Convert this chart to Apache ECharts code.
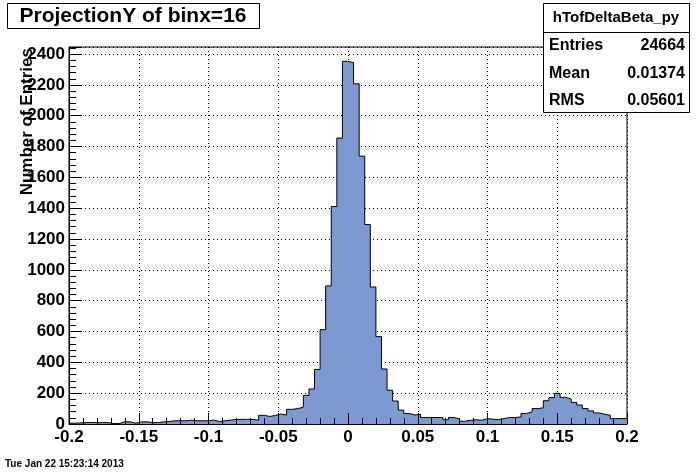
<!DOCTYPE html>
<html>
<head>
<meta charset="utf-8">
<script src="https://cdn.jsdelivr.net/npm/echarts@6/dist/echarts.min.js"></script>
<style>html,body{margin:0;padding:0;background:#fff;}#c{width:696px;height:472px;}</style>
</head>
<body>
<div id="c"></div>
<script>
// Histogram binning
const xMin = -0.2;
const xMax = 0.2;
const binWidth = 0.004;
// Bin contents (100 bins from -0.2 to 0.2)
const counts = [
  5, 7, 9, 10, 9, 9, 9, 3, 3, 14,
  14, 5, 14, 14, 9, 9, 14, 16, 21, 21,
  21, 25, 21, 21, 21, 25, 16, 21, 25, 30,
  30, 30, 30, 25, 56, 49, 56, 65, 58, 95,
  100, 109, 186, 227, 354, 612, 896, 1411, 1855, 2353,
  2345, 2207, 1738, 1294, 889, 567, 357, 219, 149, 90,
  68, 59, 63, 42, 42, 42, 42, 28, 42, 33,
  18, 24, 28, 24, 35, 31, 28, 35, 42, 42,
  46, 68, 79, 100, 105, 151, 171, 199, 173, 162,
  140, 123, 100, 85, 72, 63, 57, 35, 35, 35
];
const yMax = 2446;
const xTickStep = 0.05;
const xMinorStep = 0.01;
const yTickStep = 200;
const yMinorStep = 40;
const titleText = 'ProjectionY of binx=16';
const yTitle = 'Number of Entries';
const statsName = 'hTofDeltaBeta_py';
const statsLabels = ['Entries', 'Mean', 'RMS'];
const statsValues = ['24664', '0.01374', '0.05601'];
const dateText = 'Tue Jan 22 15:23:14 2013';

const FONT = "'Liberation Sans', Arial, Helvetica, sans-serif";
const fill = '#7d99d1';

const stepData = counts.map((v, k) => [Math.round((xMin + k * binWidth) * 1e6) / 1e6, v]);
stepData.push([xMax, counts[counts.length - 1]]);

const chart = echarts.init(document.getElementById('c'), null, {renderer: 'canvas'});

function xAx(opts) {
  return Object.assign({
    type: 'value', min: xMin, max: xMax, position: 'bottom',
    axisLine: {show: false, onZero: false}, axisTick: {show: false}, axisLabel: {show: false},
    splitLine: {show: false}
  }, opts);
}
function yAx(opts) {
  return Object.assign({
    type: 'value', min: 0, max: yMax, position: 'left',
    axisLine: {show: false, onZero: false}, axisTick: {show: false}, axisLabel: {show: false},
    splitLine: {show: false}
  }, opts);
}

const option = {
  animation: false,
  backgroundColor: '#fff',
  grid: {left: 69, right: 69, top: 47, bottom: 48, show: true, borderColor: '#000', borderWidth: 1, backgroundColor: 'transparent'},
  xAxis: [
    xAx({interval: xTickStep, z: 0,
      splitLine: {show: true, lineStyle: {color: '#000', width: 1, type: [1, 3]}}}),
    xAx({interval: xTickStep, z: 5,
      axisLine: {show: true, onZero: false, lineStyle: {color: '#000', width: 1}},
      axisTick: {show: true, inside: true, length: 11, lineStyle: {color: '#000', width: 1}},
      axisLabel: {show: true, margin: 5, color: '#000', fontFamily: FONT, fontWeight: 'bold', fontSize: 17,
        showMinLabel: true, showMaxLabel: true,
        formatter: v => String(Math.round(v * 1000) / 1000)}}),
    xAx({interval: xMinorStep, z: 5,
      axisTick: {show: true, inside: true, length: 6, lineStyle: {color: '#000', width: 1}}})
  ],
  yAxis: [
    yAx({interval: yTickStep, z: 0,
      splitLine: {show: true, lineStyle: {color: '#000', width: 1, type: [1, 3]}}}),
    yAx({interval: yTickStep, z: 5,
      axisLine: {show: true, onZero: false, lineStyle: {color: '#000', width: 1}},
      axisTick: {show: true, inside: true, length: 13, lineStyle: {color: '#000', width: 1}},
      axisLabel: {show: true, margin: 4, color: '#000', fontFamily: FONT, fontWeight: 'bold', fontSize: 17,
        formatter: v => (Math.abs(v % yTickStep) < 1e-6 ? String(v) : '')}}),
    yAx({interval: yMinorStep, z: 5,
      axisTick: {show: true, inside: true, length: 7, lineStyle: {color: '#000', width: 1}}})
  ],
  series: [{
    type: 'line',
    name: statsName,
    xAxisIndex: 0, yAxisIndex: 0,
    step: 'end',
    symbol: 'none',
    data: stepData,
    lineStyle: {color: '#000', width: 1},
    areaStyle: {color: fill, opacity: 1},
    z: 2
  }],
  graphic: [
    // title box
    {type: 'rect', shape: {x: 7.5, y: 3.5, width: 252, height: 25}, style: {fill: '#fff', stroke: '#000', lineWidth: 1}, z: 10},
    {type: 'text', x: 133, y: 16, style: {text: titleText, fill: '#000', font: "bold 21px " + FONT, textAlign: 'center', textVerticalAlign: 'middle'}, z: 11},
    // y axis title
    {type: 'text', x: 27, y: 48, rotation: Math.PI / 2, style: {text: yTitle, fill: '#000', font: "bold 17px " + FONT, textAlign: 'right', textVerticalAlign: 'middle'}, z: 11},
    // stats box
    {type: 'rect', shape: {x: 543.5, y: 3.5, width: 146, height: 109}, style: {fill: '#fff', stroke: '#000', lineWidth: 1}, z: 10},
    {type: 'line', shape: {x1: 543.5, y1: 32.5, x2: 689.5, y2: 32.5}, style: {stroke: '#000', lineWidth: 1}, z: 11},
    {type: 'text', x: 616, y: 18, style: {text: statsName, fill: '#000', font: "bold 15px " + FONT, textAlign: 'center', textVerticalAlign: 'middle'}, z: 11},
    {type: 'text', x: 549, y: 46, style: {text: statsLabels[0], fill: '#000', font: "bold 16px " + FONT, textAlign: 'left', textVerticalAlign: 'middle'}, z: 11},
    {type: 'text', x: 685, y: 46, style: {text: statsValues[0], fill: '#000', font: "bold 16px " + FONT, textAlign: 'right', textVerticalAlign: 'middle'}, z: 11},
    {type: 'text', x: 549, y: 74, style: {text: statsLabels[1], fill: '#000', font: "bold 16px " + FONT, textAlign: 'left', textVerticalAlign: 'middle'}, z: 11},
    {type: 'text', x: 685, y: 74, style: {text: statsValues[1], fill: '#000', font: "bold 16px " + FONT, textAlign: 'right', textVerticalAlign: 'middle'}, z: 11},
    {type: 'text', x: 549, y: 101, style: {text: statsLabels[2], fill: '#000', font: "bold 16px " + FONT, textAlign: 'left', textVerticalAlign: 'middle'}, z: 11},
    {type: 'text', x: 685, y: 101, style: {text: statsValues[2], fill: '#000', font: "bold 16px " + FONT, textAlign: 'right', textVerticalAlign: 'middle'}, z: 11},
    // date
    {type: 'text', x: 5, y: 464, style: {text: dateText, fill: '#000', font: "bold 10px " + FONT, textAlign: 'left', textVerticalAlign: 'middle'}, z: 11}
  ]
};
chart.setOption(option);
</script>
</body>
</html>
